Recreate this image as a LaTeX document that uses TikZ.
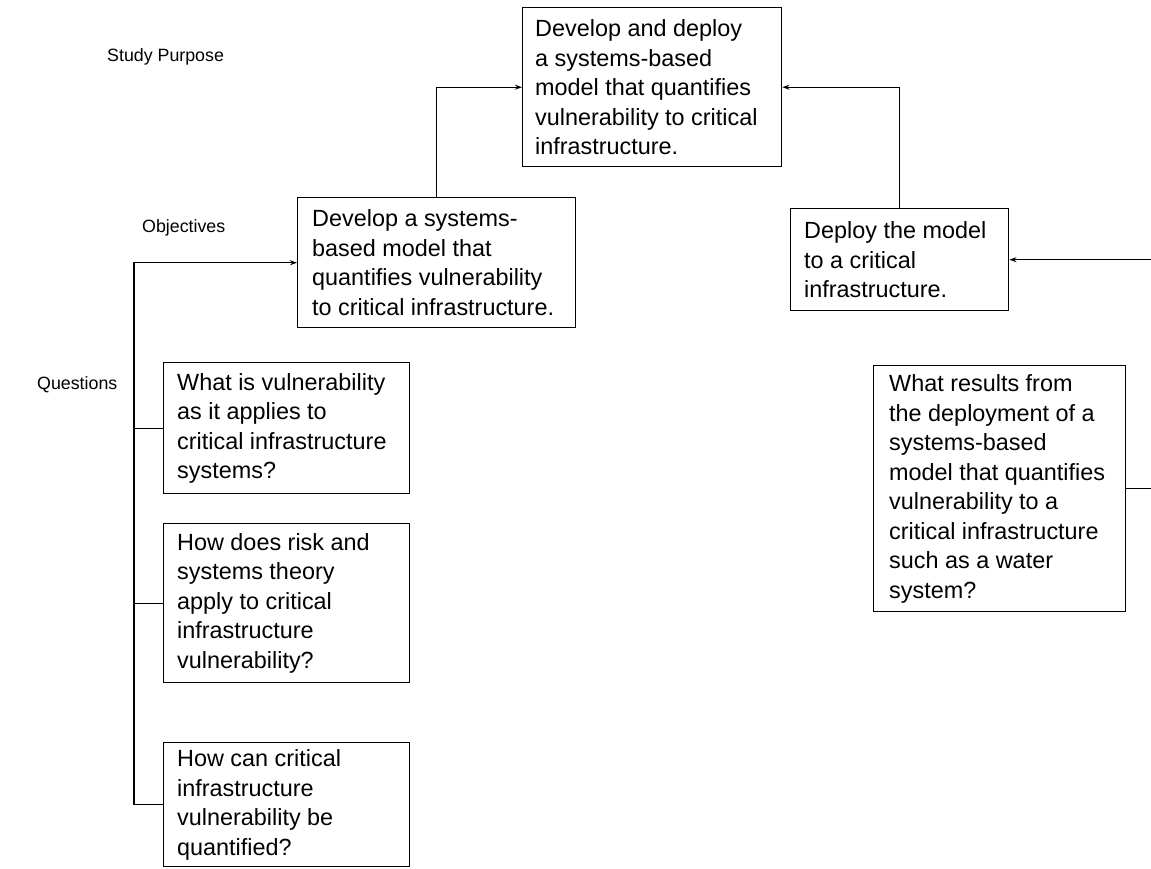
\documentclass[tikz,border=0pt]{standalone}
\usepackage{fontspec}
\setmainfont{Liberation Sans}
\usetikzlibrary{arrows.meta}
\begin{document}
\begin{tikzpicture}[x=1pt,y=-1pt,
  box/.style={draw, line width=1.4pt, inner sep=0pt, anchor=north west},
  txt/.style={inner sep=0pt, align=left, anchor=west, font=\fontsize{23.4}{29.5}\selectfont},
  lbl/.style={inner sep=0pt, anchor=west, font=\fontsize{17.8}{22}\selectfont},
  conn/.style={line width=1.2pt},
  arr/.style={conn, -{Stealth[length=7pt,width=5pt]}}]
\useasboundingbox (0,0) rectangle (1151,868);
% labels
\node[lbl] (lp) at (107,57) {Study Purpose};
\node[lbl] (lo) at (142,228) {Objectives};
\node[lbl] (lq) at (37,385) {Questions};
% boxes
\node[box, minimum width=259, minimum height=159] (top) at (522,7) {};
\node[txt] (topt) at ([xshift=13]top.west) {Develop and deploy\\a systems-based\\model that quantifies\\vulnerability to critical\\infrastructure.};
\node[box, minimum width=278, minimum height=130] (o1) at (297,197) {};
\node[txt] (o1t) at ([xshift=15]o1.west) {Develop a systems-\\based model that\\quantifies vulnerability\\to critical infrastructure.};
\node[box, minimum width=218, minimum height=102] (o2) at (790,208) {};
\node[txt] (o2t) at ([xshift=14]o2.west) {Deploy the model\\to a critical\\infrastructure.};
\node[box, minimum width=246, minimum height=131] (q1) at (163,362) {};
\node[txt] (q1t) at ([xshift=14]q1.west) {What is vulnerability\\as it applies to\\critical infrastructure\\systems?};
\node[box, minimum width=246, minimum height=159] (q2) at (163,523) {};
\node[txt] (q2t) at ([xshift=14]q2.west) {How does risk and\\systems theory\\apply to critical\\infrastructure\\vulnerability?};
\node[box, minimum width=246, minimum height=124] (q3) at (163,742) {};
\node[txt] (q3t) at ([xshift=14]q3.west) {How can critical\\infrastructure\\vulnerability be\\quantified?};
\node[box, minimum width=252, minimum height=246] (rq) at (873,365) {};
\node[txt] (rqt) at ([xshift=16]rq.west) {What results from\\the deployment of a\\systems-based\\model that quantifies\\vulnerability to a\\critical infrastructure\\such as a water\\system?};
% connectors
\draw[arr] (o1.north) |- (top.west);
\draw[arr] (o2.north) |- (top.east);
\coordinate (e1) at (1151,0);
\draw[arr] (o2.east -| e1) -- (o2.east);
\draw[conn] (rq.east) -- (rq.east -| e1);
\coordinate (bx) at (134,0);
\draw[arr] (q3.west) -- (q3.west -| bx) -- (o1.west -| bx) -- (o1.west);
\draw[conn] (q1.west -| bx) -- (q1.west);
\draw[conn] (q2.west -| bx) -- (q2.west);
\end{tikzpicture}
\end{document}
